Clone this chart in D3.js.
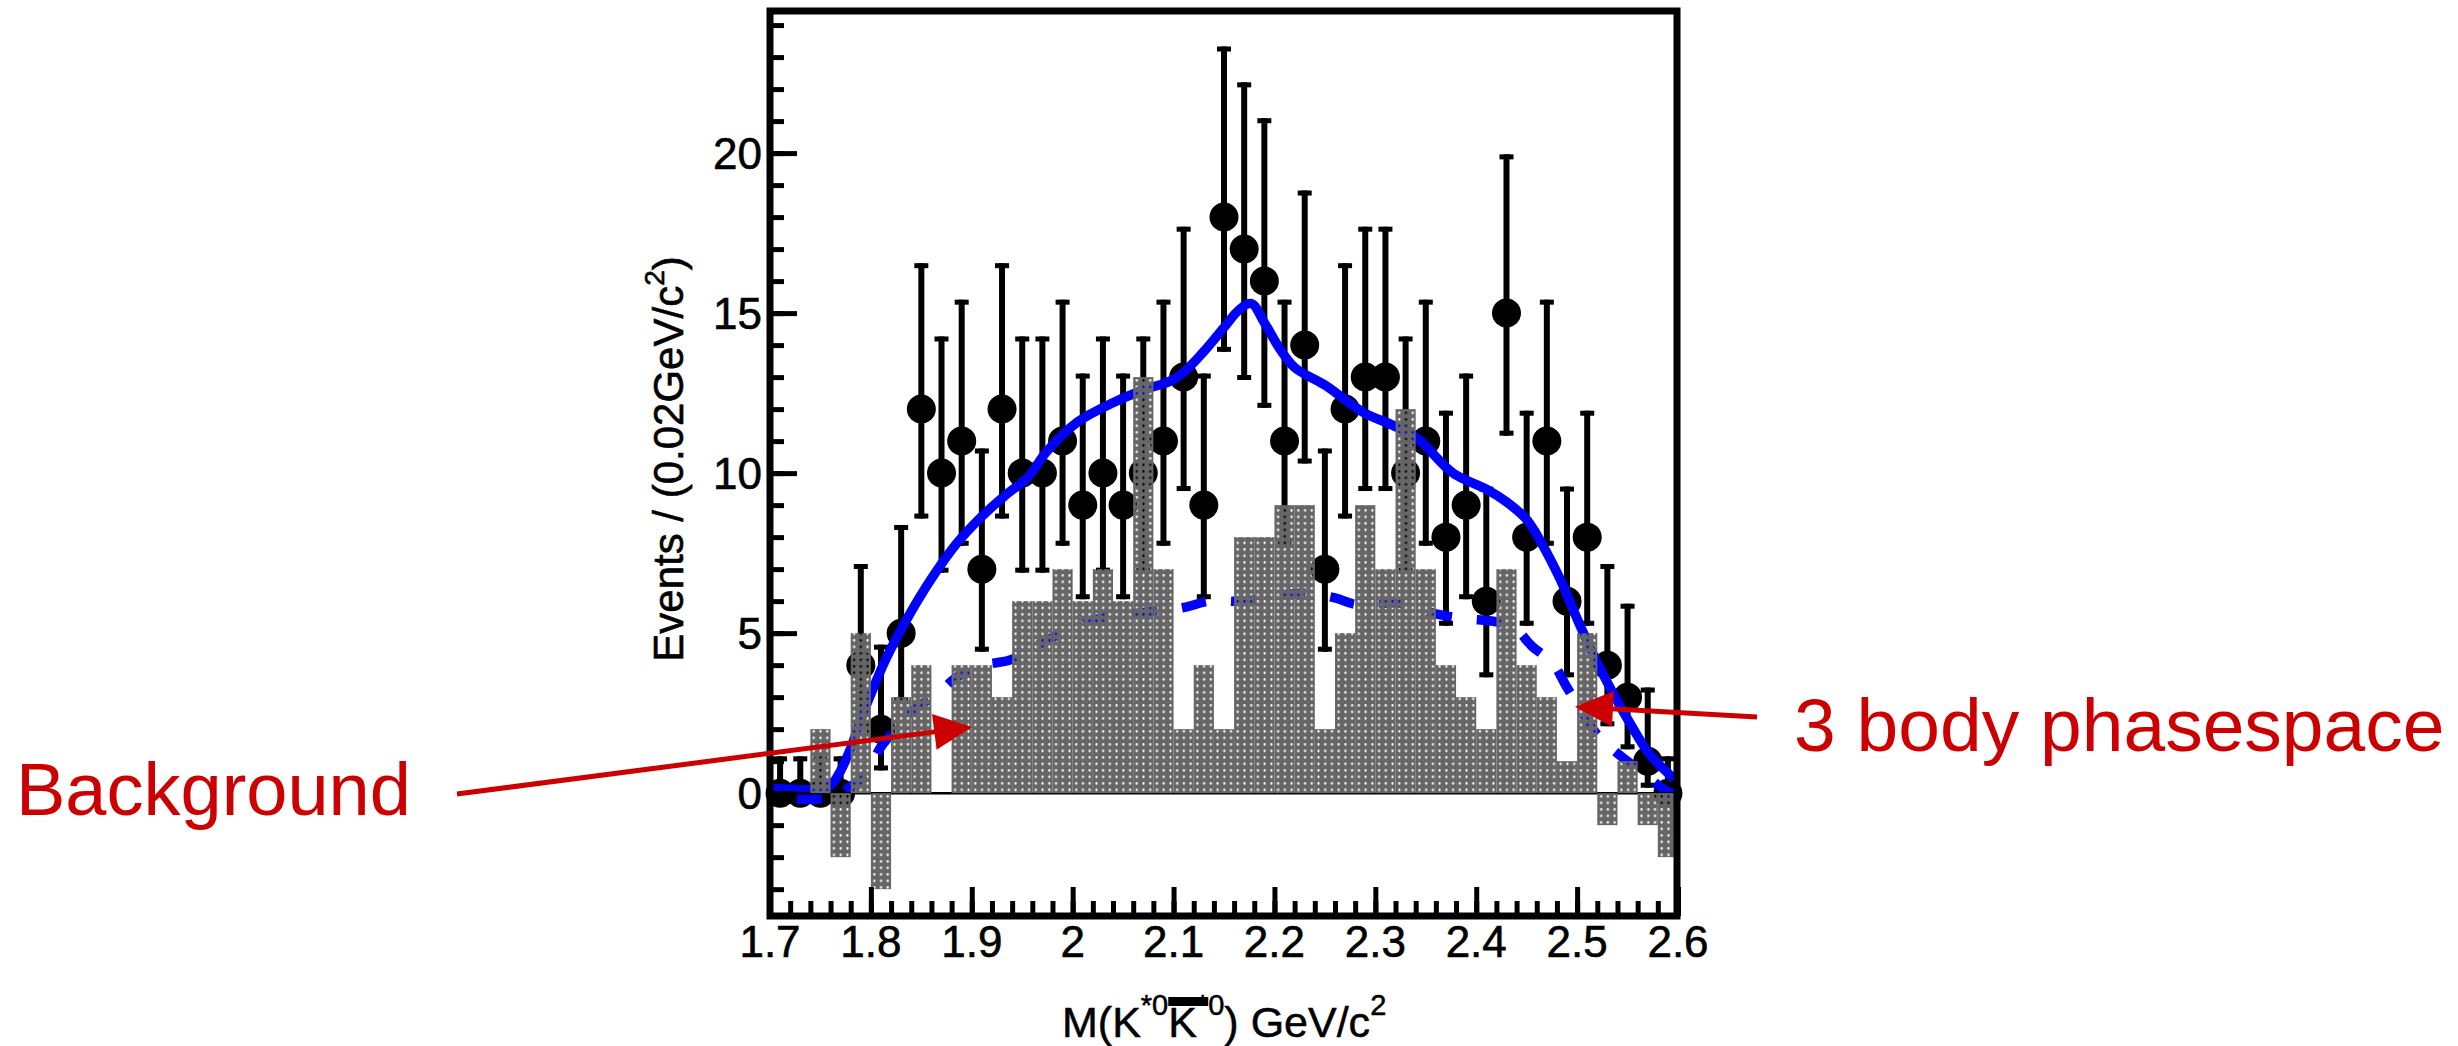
<!DOCTYPE html>
<html><head><meta charset="utf-8">
<script src="https://cdn.jsdelivr.net/npm/d3@7"></script>
<style>
html,body{margin:0;padding:0;background:#fff;}
svg{display:block;}
text{font-family:"Liberation Sans",Arial,Helvetica,sans-serif;}
</style>
</head><body>
<svg id="c" width="2458" height="1046"></svg>
<script>
// ---------------- data ----------------
const binCenters = [1.71,1.73,1.75,1.77,1.79,1.81,1.83,1.85,1.87,1.89,1.91,1.93,1.95,1.97,1.99,
  2.01,2.03,2.05,2.07,2.09,2.11,2.13,2.15,2.17,2.19,2.21,2.23,2.25,2.27,2.29,2.31,2.33,2.35,
  2.37,2.39,2.41,2.43,2.45,2.47,2.49,2.51,2.53,2.55,2.57,2.59];
const binHalfWidth = 0.01;
const dataCounts = [0,0,0,0,4,2,5,12,10,11,7,12,10,10,11,9,10,9,10,11,13,9,18,17,16,11,14,7,
  12,13,13,10,11,8,9,6,15,8,11,6,8,4,3,1,0];
const errLow = [0,0,0,0,1.91,1.29,2.16,3.42,3.11,3.27,2.58,3.42,3.11,3.11,3.27,2.94,3.11,2.94,
  3.11,3.27,3.56,2.94,4.21,4.09,3.96,3.27,3.70,2.58,3.42,3.56,3.56,3.11,3.27,2.77,2.94,2.38,
  3.83,2.77,3.27,2.38,2.77,1.91,1.63,0.83,0];
const errHigh = [1.15,1.15,1.15,1.15,3.16,2.64,3.38,4.56,4.27,4.42,3.77,4.56,4.27,4.27,4.42,
  4.11,4.27,4.11,4.27,4.42,4.70,4.11,5.33,5.21,5.09,4.42,4.83,3.77,4.56,4.70,4.70,4.27,4.42,
  3.95,4.11,3.58,4.96,3.95,4.42,3.58,3.95,3.16,2.92,2.30,1.15];
const background = [0,0,2,-2,5,-3,3,4,0,4,4,3,6,6,7,6,7,6,13,7,2,4,2,8,8,9,9,2,5,9,7,12,7,4,3,
  2,7,4,3,1,5,-1,1,-1,-2];

// total fit (solid)
const fitX = [1.70,1.755,1.762,1.77,1.78,1.79,1.80,1.815,1.835,1.86,1.885,1.91,1.935,1.955,1.975,
  2.005,2.04,2.075,2.095,2.11,2.13,2.15,2.165,2.177,2.19,2.205,2.22,2.25,2.288,2.317,2.341,2.377,
  2.41,2.43,2.45,2.465,2.483,2.50,2.518,2.536,2.554,2.571,2.596];
const fitY = [0.15,0.15,0.3,0.7,1.4,2.3,3.1,4.2,5.4,6.7,7.8,8.65,9.35,9.85,10.7,
  11.6,12.2,12.65,12.85,13.15,13.8,14.55,15.1,15.3,14.7,13.9,13.3,12.75,11.9,11.5,11.1,10.0,
  9.5,9.1,8.55,7.8,6.7,5.45,4.2,3.1,2.1,1.25,0.45];

// 3 body phase space (dashed)
const phspX = [1.70,1.76,1.775,1.79,1.80,1.81,1.825,1.845,1.868,1.884,1.91,1.937,1.97,2.013,2.07,
  2.11,2.135,2.17,2.20,2.225,2.26,2.28,2.325,2.36,2.39,2.42,2.44,2.455,2.476,2.49,2.50,2.518,
  2.536,2.561,2.578,2.59,2.60];
const phspY = [-0.15,-0.15,0.1,0.45,0.85,1.45,2.0,2.65,3.15,3.6,4.0,4.15,4.7,5.35,5.65,
  5.8,6.0,6.0,6.15,6.25,6.1,5.9,5.94,5.6,5.45,5.35,5.1,4.6,4.05,3.3,2.8,1.9,
  1.35,0.73,0.31,0.05,0];

const xTickValues = [1.7,1.8,1.9,2.0,2.1,2.2,2.3,2.4,2.5,2.6];
const xTickLabels = ["1.7","1.8","1.9","2","2.1","2.2","2.3","2.4","2.5","2.6"];
const yTickValues = [0,5,10,15,20];
const yTickLabels = ["0","5","10","15","20"];

// ---------------- layout ----------------
const svg = d3.select("#c");
const L = 770, R = 1677, T = 11, B = 916;
const x = d3.scaleLinear().domain([1.7, 2.6]).range([L, 1678]);
const y = d3.scaleLinear().domain([-3.87, 24.44]).range([917, T]);
const y0 = y(0);

// pattern: gray with transparent holes
const defs = svg.append("defs");
const pw = 6.73, ph = 6.5;
const pat = defs.append("pattern").attr("id","dots").attr("patternUnits","userSpaceOnUse")
  .attr("x", L).attr("y", y0).attr("width", pw).attr("height", ph);
pat.append("path")
  .attr("d", `M0,0H${pw}V${ph}H0Z M${pw/2+1.1},${ph/2} a1.1,1.3 0 1,0 -2.2,0 a1.1,1.3 0 1,0 2.2,0Z`)
  .attr("fill", "#666").attr("fill-rule","evenodd");

// ---------------- data points ----------------
const gPts = svg.append("g");
binCenters.forEach((c, i) => {
  const cx = x(c), v = dataCounts[i];
  const yt = y(v + errHigh[i]), yb = y(v - errLow[i]);
  gPts.append("line").attr("x1",cx).attr("x2",cx).attr("y1",yt).attr("y2",yb)
    .attr("stroke","#000").attr("stroke-width",6);
  gPts.append("rect").attr("x",cx-7).attr("y",yt).attr("width",14).attr("height",5).attr("fill","#000");
  if (errLow[i] > 0)
    gPts.append("rect").attr("x",cx-7).attr("y",yb-5).attr("width",14).attr("height",5).attr("fill","#000");
  gPts.append("circle").attr("cx",cx).attr("cy",y(v)).attr("r",14.5).attr("fill","#000");
});

// ---------------- curves ----------------
const lineGen = d3.line().x(d => x(d[0])).y(d => y(d[1])).curve(d3.curveCatmullRom.alpha(0.5));
svg.append("path").datum(fitX.map((v,i)=>[v, fitY[i]])).attr("d", lineGen)
  .attr("fill","none").attr("stroke","#0000ff").attr("stroke-width",9.5).attr("stroke-linejoin","round");
const dashPath = svg.append("path").datum(phspX.map((v,i)=>[v, phspY[i]])).attr("d", lineGen)
  .attr("fill","none").attr("stroke","#0000ff").attr("stroke-width",9.5);
(function(){
  const node = dashPath.node(), total = node.getTotalLength();
  const target = x(2.108);
  let lo = 0, hi = total;
  for (let k=0;k<40;k++){ const m=(lo+hi)/2; if (node.getPointAtLength(m).x < target) lo=m; else hi=m; }
  const P = 50;
  const off = (P - (lo % P)) % P;
  dashPath.attr("stroke-dasharray","25,25").attr("stroke-dashoffset", off);
})();

// zero line
svg.append("line").attr("x1",L).attr("x2",R).attr("y1",y0).attr("y2",y0)
  .attr("stroke","#000").attr("stroke-width",2.5);

// ---------------- background histogram ----------------
svg.append("g").selectAll("rect").data(binCenters).join("rect")
  .attr("x", d => x(d - binHalfWidth))
  .attr("width", d => x(d + binHalfWidth) - x(d - binHalfWidth))
  .attr("y", (d,i) => Math.min(y0, y(background[i])))
  .attr("height", (d,i) => Math.abs(y(background[i]) - y0))
  .attr("fill", "url(#dots)");

// ---------------- axes ----------------
const xMinor = d3.range(0, 46).map(k => 1.7 + k*0.02);
const yMinor = d3.range(-3, 25);
function styleAxis(g){ g.select(".domain").remove(); g.selectAll(".tick line").attr("stroke","#000").attr("stroke-width",5); g.selectAll(".tick text").remove(); }
svg.append("g").attr("transform",`translate(0,${B})`)
  .call(d3.axisBottom(x).tickValues(xMinor).tickSize(-15).tickFormat("")).call(styleAxis);
svg.append("g").attr("transform",`translate(0,${B})`)
  .call(d3.axisBottom(x).tickValues(xTickValues).tickSize(-29).tickFormat("")).call(styleAxis);
svg.append("g").attr("transform",`translate(${L},0)`)
  .call(d3.axisLeft(y).tickValues(yMinor).tickSize(-14).tickFormat("")).call(styleAxis);
svg.append("g").attr("transform",`translate(${L},0)`)
  .call(d3.axisLeft(y).tickValues(yTickValues).tickSize(-27).tickFormat("")).call(styleAxis);

// frame
svg.append("rect").attr("x",L).attr("y",T).attr("width",R-L).attr("height",B-T)
  .attr("fill","none").attr("stroke","#000").attr("stroke-width",7);

// tick labels
svg.append("g").selectAll("text").data(xTickValues).join("text")
  .attr("x", d => x(d)).attr("y", 957).attr("text-anchor","middle")
  .attr("font-size", 44).attr("fill","#000").attr("stroke","#000").attr("stroke-width",0.6)
  .text((d,i) => xTickLabels[i]);
svg.append("g").selectAll("text").data(yTickValues).join("text")
  .attr("x", 762).attr("y", d => y(d) + 16).attr("text-anchor","end")
  .attr("font-size", 44).attr("fill","#000").attr("stroke","#000").attr("stroke-width",0.6)
  .text((d,i) => yTickLabels[i]);

// y title
const yt = svg.append("text").attr("transform","translate(683,459) rotate(-90)")
  .attr("text-anchor","middle").attr("font-size",42).attr("fill","#000")
  .attr("stroke","#000").attr("stroke-width",0.6);
yt.append("tspan").text("Events / (0.02GeV/c");
yt.append("tspan").attr("font-size",28).attr("dy",-19).text("2");
yt.append("tspan").attr("dy",19).text(")");

// x title
const xt = svg.append("text").attr("x",1062).attr("y",1037).attr("font-size",43).attr("fill","#000")
  .attr("stroke","#000").attr("stroke-width",0.5);
xt.append("tspan").text("M(K");
xt.append("tspan").attr("font-size",29).attr("dy",-22).text("*0");
xt.append("tspan").attr("dy",22).text("K");
xt.append("tspan").attr("font-size",29).attr("dy",-22).text("*0");
xt.append("tspan").attr("dy",22).text(") GeV/c");
xt.append("tspan").attr("font-size",29).attr("dy",-22).text("2");
(function(){
  const n = xt.node();
  const a = n.getExtentOfChar(5), b = n.getExtentOfChar(6);
  svg.append("rect").attr("x", a.x).attr("y", 997).attr("width", (b.x + b.width) - a.x)
    .attr("height", 9).attr("fill","#000");
})();

// ---------------- annotations ----------------
const red = "#cc0000";
function arrow(x1,y1,x2,y2){
  const dx=x2-x1, dy=y2-y1, len=Math.hypot(dx,dy), ux=dx/len, uy=dy/len;
  const hl=38, hw=18;
  const bx=x2-ux*hl, by=y2-uy*hl;
  svg.append("line").attr("x1",x1).attr("y1",y1).attr("x2",bx+ux*2).attr("y2",by+uy*2)
    .attr("stroke",red).attr("stroke-width",5);
  svg.append("polygon").attr("points",
    `${x2},${y2} ${bx-uy*hw},${by+ux*hw} ${bx+uy*hw},${by-ux*hw}`).attr("fill",red);
}
arrow(457,794,972,727);
arrow(1757,717,1575,706.7);
svg.append("text").attr("x",16).attr("y",815).attr("font-size",74).attr("fill",red).text("Background");
svg.append("text").attr("x",1794).attr("y",751).attr("font-size",75).attr("fill",red).text("3 body phasespace");
</script>
</body></html>
